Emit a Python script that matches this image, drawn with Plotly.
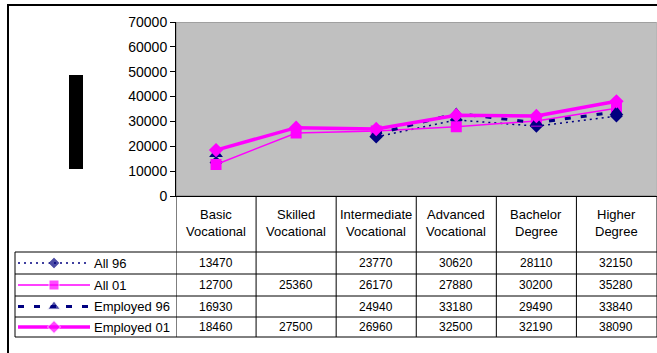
import plotly.graph_objects as go

# Education levels (column headers of the data table, two lines each)
head_top = ["Basic", "Skilled", "Intermediate", "Advanced", "Bachelor", "Higher"]
head_bot = ["Vocational", "Vocational", "Vocational", "Vocational", "Degree", "Degree"]

# Series values (None = no figure reported)
all_96 = [13470, None, 23770, 30620, 28110, 32150]
all_01 = [12700, 25360, 26170, 27880, 30200, 35280]
emp_96 = [16930, None, 24940, 33180, 29490, 33840]
emp_01 = [18460, 27500, 26960, 32500, 32190, 38090]

series_names = ["All 96", "All 01", "Employed 96", "Employed 01"]
y_ticks = [0, 10000, 20000, 30000, 40000, 50000, 60000, 70000]

W, H = 657, 353
NAVY = "#000080"
MAG = "#FF00FF"
FONT = "Arial, Liberation Sans, sans-serif"


def px(x):
    return x / W


def py(y):
    return 1 - y / H


styles = [
    dict(line=dict(color=NAVY, width=1.5, dash="2px,4px"),
         marker=dict(symbol="diamond", size=10, color=NAVY)),
    dict(line=dict(color=MAG, width=1.5),
         marker=dict(symbol="square", size=11, color=MAG)),
    dict(line=dict(color=NAVY, width=3, dash="6px,10px"),
         marker=dict(symbol="triangle-up", size=12, color=NAVY)),
    dict(line=dict(color=MAG, width=3.5),
         marker=dict(symbol="diamond", size=11, color=MAG)),
]
values = [all_96, all_01, emp_96, emp_01]

x_idx = list(range(len(head_top)))

fig = go.Figure()
for name, vals, st in zip(series_names, values, styles):
    fig.add_trace(go.Scatter(
        x=x_idx, y=vals, name=name, mode="lines+markers",
        line=st["line"], marker=st["marker"], connectgaps=False,
        showlegend=False, hoverinfo="skip",
    ))

# Table geometry (pixels)
row_lines = [252, 274, 296, 317, 337]
row_centers = [263, 285, 306.5, 327]
table_top = 196
legend_left = 15
sample_x0, sample_x1 = 18, 90
plot_left, plot_right, plot_top = 176, 656.5, 22

# Legend keys drawn in the first column of the table
for i, st in enumerate(styles):
    yc = row_centers[i]
    mk = dict(st["marker"])
    mk["size"] = [0, mk["size"] - 1, 0]
    fig.add_trace(go.Scatter(
        x=[sample_x0, (sample_x0 + sample_x1) / 2, sample_x1], y=[yc, yc, yc],
        mode="lines+markers", line=st["line"], marker=mk,
        xaxis="x2", yaxis="y2", showlegend=False, hoverinfo="skip",
    ))

shapes = []
# plot area fill with grey frame
shapes.append(dict(type="rect", xref="x", yref="y",
                   x0=-0.5, x1=5.5, y0=0, y1=70000,
                   fillcolor="#C0C0C0", line=dict(color="#808080", width=1),
                   layer="below"))
# outer chart border (left and top visible)
shapes.append(dict(type="rect", xref="paper", yref="paper",
                   x0=px(8), x1=px(700), y0=py(400), y1=py(5),
                   line=dict(color="black", width=2)))
# vertical bar at left
shapes.append(dict(type="rect", xref="paper", yref="paper",
                   x0=px(69), x1=px(83), y0=py(169), y1=py(75),
                   fillcolor="black", line=dict(width=0)))
# table verticals at category boundaries
for i in range(len(head_top) + 1):
    shapes.append(dict(type="line", xref="x", yref="paper",
                       x0=i - 0.5, x1=i - 0.5, y0=py(table_top), y1=py(row_lines[-1]),
                       line=dict(color="black", width=1)))
# legend column left edge
shapes.append(dict(type="line", xref="paper", yref="paper",
                   x0=px(legend_left), x1=px(legend_left),
                   y0=py(row_lines[0]), y1=py(row_lines[-1]),
                   line=dict(color="black", width=1)))
# table horizontals
for yl in row_lines:
    shapes.append(dict(type="line", xref="paper", yref="paper",
                       x0=px(legend_left), x1=1, y0=py(yl), y1=py(yl),
                       line=dict(color="black", width=1)))

ann = []
txt = dict(showarrow=False, yanchor="middle")
for i in x_idx:
    ann.append(dict(x=i, y=py(214), xref="x", yref="paper", text=head_top[i],
                    xanchor="center", font=dict(size=13, color="black", family=FONT), **txt))
    ann.append(dict(x=i, y=py(231), xref="x", yref="paper", text=head_bot[i],
                    xanchor="center", font=dict(size=13, color="black", family=FONT), **txt))
for r, vals in enumerate(values):
    for i, v in enumerate(vals):
        if v is None:
            continue
        ann.append(dict(x=i, y=py(row_centers[r]), xref="x", yref="paper",
                        text=str(v), xanchor="center",
                        font=dict(size=12, color="black", family=FONT), **txt))
    ann.append(dict(x=px(92), y=py(row_centers[r]), xref="paper", yref="paper",
                    text=series_names[r], xanchor="left",
                    font=dict(size=13, color="black", family=FONT), **txt))

fig.update_layout(
    width=W, height=H,
    margin=dict(l=0, r=0, t=0, b=0, autoexpand=False),
    paper_bgcolor="white",
    plot_bgcolor="rgba(0,0,0,0)",
    font=dict(family=FONT, color="black"),
    xaxis=dict(domain=[px(plot_left), px(plot_right)], range=[-0.5, 5.5],
               showticklabels=False, showgrid=False, zeroline=False,
               showline=True, linecolor="black", linewidth=1, ticks=""),
    yaxis=dict(domain=[py(table_top), py(plot_top)], range=[0, 70000],
               tickvals=y_ticks, ticktext=[str(t) for t in y_ticks],
               ticks="outside", ticklen=5, tickcolor="black",
               tickfont=dict(size=14, color="black", family=FONT),
               showgrid=False, zeroline=False,
               showline=True, linecolor="black", linewidth=1),
    xaxis2=dict(domain=[0, px(plot_left)], range=[0, plot_left], visible=False, anchor="y2"),
    yaxis2=dict(domain=[0, 1], range=[H, 0], visible=False, anchor="x2"),
    shapes=shapes,
    annotations=ann,
    showlegend=False,
)

fig.write_html("out.html")
